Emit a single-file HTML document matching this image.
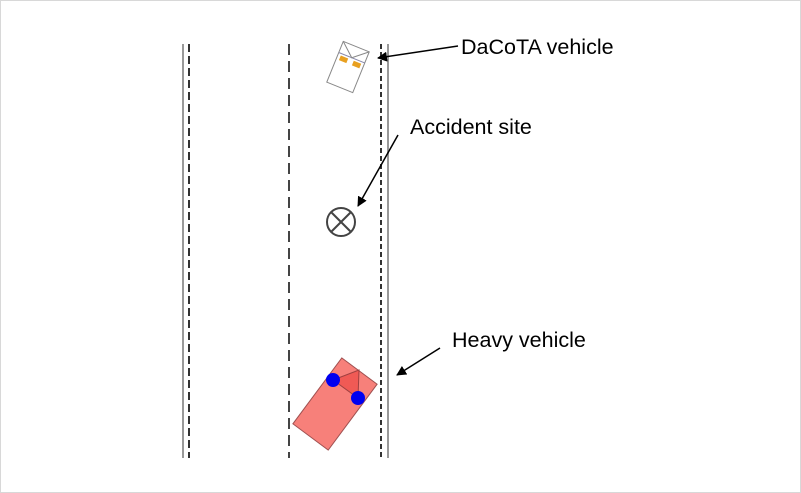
<!DOCTYPE html>
<html><head><style>
html,body{margin:0;padding:0;background:#fff;}
.wrap{width:799px;height:491px;border:1px solid #d8d8d8;position:relative;}
svg text{font-family:"Liberation Sans",sans-serif;font-size:21.5px;fill:#000;}
</style></head><body>
<div class="wrap">
<svg width="801" height="493" viewBox="0 0 801 493" style="position:absolute;left:-1px;top:-1px">
<defs><marker id="a" markerWidth="10" markerHeight="10" refX="9" refY="5" orient="auto" markerUnits="userSpaceOnUse"><path d="M0,0 L10,5 L0,10 z" fill="#000"/></marker></defs>
<line x1="183" y1="44" x2="183" y2="458" stroke="#999" stroke-width="2"/>
<line x1="189" y1="44" x2="189" y2="458" stroke="#333" stroke-width="2" stroke-dasharray="8,4"/>
<line x1="289" y1="44" x2="289" y2="458" stroke="#444" stroke-width="2" stroke-dasharray="11,6"/>
<line x1="381" y1="44" x2="381" y2="458" stroke="#333" stroke-width="2" stroke-dasharray="5,3"/>
<line x1="388" y1="44" x2="388" y2="458" stroke="#999" stroke-width="2"/>
<g transform="translate(348,67) rotate(22)">
<rect x="-14" y="-22" width="28" height="44" fill="#fff" stroke="#888" stroke-width="1"/>
<line x1="-14" y1="-10" x2="14" y2="-10" stroke="#88a" />
<path d="M-14,-22 L0,-10 L14,-22" fill="none" stroke="#888"/>
<rect x="-11" y="-8" width="8" height="5" fill="#e8a020"/>
<rect x="3" y="-8" width="8" height="5" fill="#e8a020"/>
</g>
<circle cx="341" cy="222" r="14" fill="#fff" stroke="#444" stroke-width="2"/>
<line x1="331" y1="212" x2="351" y2="232" stroke="#444" stroke-width="2"/>
<line x1="351" y1="212" x2="331" y2="232" stroke="#444" stroke-width="2"/>
<g transform="translate(335,404) rotate(36.6)">
<rect x="-22" y="-41" width="44" height="82" fill="#f7807a" stroke="#a05050" stroke-width="1"/>
</g>
<path d="M333,380 L359,370 L358,398 Z" fill="#f05a55" stroke="#a04040" stroke-width="1"/>
<circle cx="333" cy="380" r="7" fill="#0000f0"/>
<circle cx="358" cy="398" r="7" fill="#0000f0"/>
<line x1="458" y1="46" x2="378" y2="58" stroke="#000" stroke-width="1.5" marker-end="url(#a)"/>
<line x1="398" y1="135" x2="358" y2="206" stroke="#000" stroke-width="1.5" marker-end="url(#a)"/>
<line x1="440" y1="348" x2="397" y2="375" stroke="#000" stroke-width="1.5" marker-end="url(#a)"/>
<text x="461" y="54">DaCoTA vehicle</text>
<text x="410" y="134">Accident site</text>
<text x="452" y="347">Heavy vehicle</text>
</svg>
</div>
</body></html>
